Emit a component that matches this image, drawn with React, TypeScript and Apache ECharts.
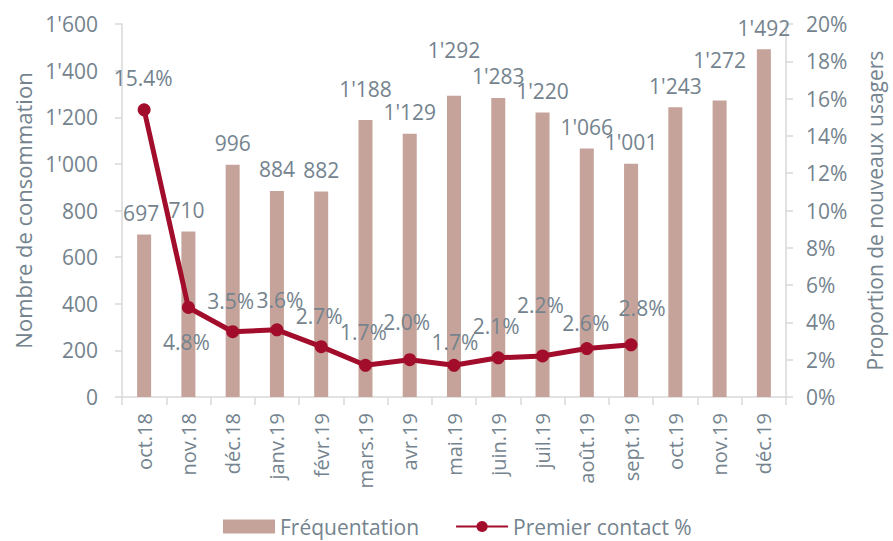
import React, { useEffect, useRef } from "react";
import * as echarts from "echarts";

const categories = [
  "oct.18", "nov.18", "déc.18", "janv.19", "févr.19", "mars.19", "avr.19",
  "mai.19", "juin.19", "juil.19", "août.19", "sept.19", "oct.19", "nov.19", "déc.19",
];
const frequentation = [697, 710, 996, 884, 882, 1188, 1129, 1292, 1283, 1220, 1066, 1001, 1243, 1272, 1492];
const premierContact = [15.4, 4.8, 3.5, 3.6, 2.7, 1.7, 2.0, 1.7, 2.1, 2.2, 2.6, 2.8];
const leftTicks = { min: 0, max: 1600, interval: 200 };
const rightTicks = { min: 0, max: 20, interval: 2 };

// label placement (layout only)
const lineLabelOffsets: [number, number][] = [
  [-1, -32], [-2, 35], [-2, -31], [3, -30], [-2, -31], [-2, -33],
  [-3, -38], [1, -23], [-2, -32], [-2, -51], [-1, -26], [11, -37],
];
const barLabelOffsets: [number, number][] = [
  [-3, 0], [-2, 0], [0, 0], [0, 0], [0, 0], [0, -10], [0, 0],
  [0, -24], [0, 0], [0, 0], [0, 0], [0, 0], [0, 0], [0, -19], [0, 0],
];

const GRAY = "#74838e";
const FONT = "'Open Sans', sans-serif";
const FS = 21;

function fmtThousands(v: number): string {
  if (v >= 1000) {
    const r = v % 1000;
    return Math.floor(v / 1000) + "'" + String(r).padStart(3, "0");
  }
  return String(v);
}

export default function App() {
  const ref = useRef<HTMLDivElement>(null);
  useEffect(() => {
    if (!ref.current) return;
    const chart = echarts.init(ref.current, null, { renderer: "svg" });
    chart.setOption({
      animation: false,
      textStyle: { fontFamily: FONT },
      grid: { left: 122, right: 101, top: 24, bottom: 144, containLabel: false },
      legend: {
        top: 511,
        left: 218,
        itemGap: 36,
        itemWidth: 52,
        itemHeight: 14,
        textStyle: { color: GRAY, fontSize: FS, fontFamily: FONT },
        data: [
          { name: "Fréquentation", icon: "rect" },
          { name: "Premier contact %" },
        ],
      },
      xAxis: {
        type: "category",
        data: categories,
        axisLine: { lineStyle: { color: "#d9d9d9", width: 1.5 } },
        axisTick: { show: true, length: 8, lineStyle: { color: "#d9d9d9", width: 1.5 } },
        axisLabel: { rotate: 90, margin: 16, color: GRAY, fontSize: 20, fontFamily: FONT },
      },
      yAxis: [
        {
          type: "value",
          min: leftTicks.min,
          max: leftTicks.max,
          interval: leftTicks.interval,
          name: "Nombre de consommation",
          nameLocation: "middle",
          nameGap: 88,
          nameTextStyle: { color: GRAY, fontSize: 22, fontFamily: FONT },
          axisLine: { show: true, lineStyle: { color: "#d9d9d9", width: 1.5 } },
          axisTick: { show: true, length: 7, lineStyle: { color: "#d9d9d9", width: 1.5 } },
          splitLine: { show: false },
          axisLabel: {
            margin: 24,
            color: GRAY,
            fontSize: FS,
            fontFamily: FONT,
            formatter: (v: number) => fmtThousands(v),
          },
        },
        {
          type: "value",
          min: rightTicks.min,
          max: rightTicks.max,
          interval: rightTicks.interval,
          name: "Proportion de nouveaux usagers",
          nameLocation: "middle",
          nameGap: 78,
          nameRotate: 90,
          nameTextStyle: { color: GRAY, fontSize: 21, fontFamily: FONT },
          axisLine: { show: true, lineStyle: { color: "#d9d9d9", width: 1.5 } },
          axisTick: { show: true, length: 7, lineStyle: { color: "#d9d9d9", width: 1.5 } },
          splitLine: { show: false },
          axisLabel: {
            margin: 20,
            color: GRAY,
            fontSize: FS,
            fontFamily: FONT,
            formatter: (v: number) => v + "%",
          },
        },
      ],
      series: [
        {
          name: "Fréquentation",
          type: "bar",
          yAxisIndex: 0,
          barWidth: 14,
          itemStyle: { color: "#c5a39a" },
          data: frequentation.map((v, i) => ({
            value: v,
            label: { offset: barLabelOffsets[i] },
          })),
          label: {
            show: true,
            position: "top",
            distance: 11,
            color: GRAY,
            fontSize: FS,
            fontFamily: FONT,
            formatter: (p: any) => fmtThousands(p.value),
          },
        },
        {
          name: "Premier contact %",
          type: "line",
          yAxisIndex: 1,
          symbol: "circle",
          symbolSize: 13,
          lineStyle: { color: "#a30d2c", width: 5 },
          itemStyle: { color: "#a30d2c" },
          data: premierContact.map((v, i) => ({
            value: v,
            label: {
              show: true,
              position: "inside",
              offset: lineLabelOffsets[i],
              color: GRAY,
              fontSize: FS,
              fontFamily: FONT,
              formatter: (p: any) => Number(p.value).toFixed(1) + "%",
            },
          })),
        },
      ],
    });
    return () => chart.dispose();
  }, []);
  return (
    <div
      ref={ref}
      style={{ position: "fixed", left: 0, top: 0, width: 893, height: 541, background: "#fff" }}
    />
  );
}
